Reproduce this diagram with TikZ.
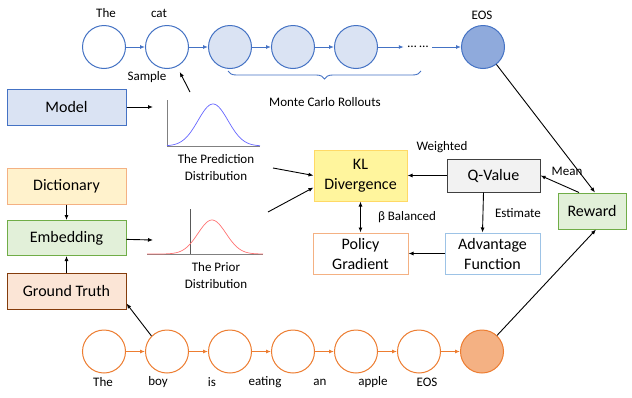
\documentclass[tikz,border=0pt]{standalone}
\usepackage{fontspec}
\setmainfont{Carlito}
\usetikzlibrary{arrows.meta,decorations.pathreplacing}

\definecolor{tokblue}{HTML}{4472C4}
\definecolor{rollfill}{HTML}{DAE3F3}
\definecolor{eosfill}{HTML}{8FAADC}
\definecolor{tokorange}{HTML}{ED7D31}
\definecolor{gtfill}{HTML}{F4B183}
\definecolor{dicfill}{HTML}{FFF2CC}
\definecolor{embfill}{HTML}{E2F0D9}
\definecolor{embline}{HTML}{70AD47}
\definecolor{truthfill}{HTML}{FBE5D6}
\definecolor{truthline}{HTML}{843C0C}
\definecolor{klfill}{HTML}{FFF59D}
\definecolor{klline}{HTML}{FFD966}
\definecolor{qfill}{HTML}{F2F2F2}
\definecolor{advline}{HTML}{9DC3E6}

\begin{document}
\begin{tikzpicture}[x=1pt, y=-1pt, node distance=63pt, line width=0.9pt, >={Latex[length=5pt,width=4pt]},
    tok/.style = {draw=tokblue, circle, minimum size=43pt, inner sep=0pt, line width=1pt},
    gt/.style = {draw=tokorange, circle, minimum size=43pt, inner sep=0pt, line width=1pt},
    box/.style = {draw, minimum width=119pt, minimum height=36pt, line width=1pt, font=\fontsize{16}{19}\selectfont},
    mid/.style = {draw, minimum width=94pt, minimum height=41pt, align=center, line width=1pt, font=\fontsize{16}{20}\selectfont},
    lbl/.style = {align=center, font=\fontsize{13}{17}\selectfont}]
    \useasboundingbox (0,0) rectangle (632,397);

    % generated sentence with rollouts
    \node[tok, fill=white] (1) at (104,47) {};
    \node[tok, fill=white] [right of=1] (2) {};
    \node[tok, fill=rollfill] [right of=2] (3) {};
    \node[tok, fill=rollfill] [right of=3] (4) {};
    \node[tok, fill=rollfill] [right of=4] (5) {};
    \node[lbl] (d) at (418,47) {\ldots\ \ldots};
    \node[tok, fill=eosfill] (6) at (483,47) {};
    \node[lbl] at (106,13) {The};
    \node[lbl] at (159,13) {cat};
    \node[lbl] at (482,15) {EOS};
    \draw[->, tokblue] (1) -- (2);
    \draw[->, tokblue] (2) -- (3);
    \draw[->, tokblue] (3) -- (4);
    \draw[->, tokblue] (4) -- (5);
    \draw[->, tokblue] (5) -- (d);
    \draw[->, tokblue] (d) -- (6);
    \draw[tokblue, decorate, decoration={brace, mirror, amplitude=8pt}] (228,71) -- (421,71);
    \node[lbl] (mc) at (325,102) {Monte Carlo Rollouts};

    % model and prediction distribution
    \node[box, fill=rollfill, draw=tokblue] (m) at (66.5,107) {Model};
    \coordinate (pl) at (153,107);
    \draw[->] (m) -- (pl);
    \draw[gray, line width=0.6pt] (167,100) -- (167,146) -- (260,146);
    \draw[blue!60, line width=0.7pt] plot[domain=167:260, samples=80] (\x, {146-42*exp(-((\x-213)^2)/(2*15^2))});
    \node[lbl] (pdl) at (216,168) {The Prediction\\Distribution};
    \coordinate (pd) at (190,92);
    \node[lbl] (s) at (147,77) {Sample};
    \draw[->, shorten >=6pt] (pd) -- (2.-63);

    % dictionary, embedding, ground truth
    \node[box, fill=dicfill, draw=gtfill] (dic) at (66.5,186) {Dictionary};
    \node[box, fill=embfill, draw=embline, minimum height=35pt] (emb) at (66.5,238) {Embedding};
    \node[box, fill=truthfill, draw=truthline] (gtb) at (66.5,291) {Ground Truth};
    \draw[->] (dic) -- (emb);
    \draw[->] (gtb) -- (emb);
    \coordinate (pr) at (153,240);
    \draw[->] (emb) -- (pr);
    \draw[gray, line width=0.6pt] (147,254) -- (263,254);
    \draw[gray!70!black, line width=0.6pt] (190,209) -- (190,254);
    \draw[red!55, line width=0.7pt] plot[domain=147:263, samples=80] (\x, {254-34*exp(-((\x-212)^2)/(2*14^2))});
    \node[lbl] (prl) at (216,276) {The Prior\\Distribution};

    % losses
    \node[mid, fill=klfill, draw=klline, minimum width=93pt, minimum height=51pt] (kl) at (360.5,175.5) {KL\\Divergence};
    \coordinate (a1) at (273,168);
    \coordinate (a2) at (268,212);
    \draw[->] (a1) -- (kl.west);
    \draw[->] (a2) -- ([yshift=-12pt]kl.west);
    \node[mid, fill=qfill, draw=black!75, minimum width=93pt, minimum height=33pt] (q) at (493.5,175.5) {Q-Value};
    \node[lbl] (w) at (442,147) {Weighted};
    \draw[->] (q) -- (kl);
    \node[box, fill=embfill, draw=embline, minimum width=68pt] (r) at (592,211) {Reward};
    \draw[->] (6) -- ([xshift=3pt]r.north);
    \draw[->] ([xshift=-13pt]r.north) -- (q.east);
    \node[lbl] (mean) at (567,171) {Mean};
    \node[mid, fill=white, draw=advline, minimum width=95pt] (adv) at (492.5,253.5) {Advantage\\Function};
    \node[mid, fill=white, draw=gtfill, minimum width=95pt] (pg) at (360.5,253.5) {Policy\\Gradient};
    \draw[->] ([xshift=-10pt]q.south) -- ([xshift=-10pt]adv.north);
    \node[lbl] (est) at (518,213) {Estimate};
    \draw[->] (adv) -- (pg);
    \draw[<->] (kl) -- (pg);
    \node[lbl] (bal) at (407,217) {β Balanced};

    % ground truth sentence
    \node[gt, fill=white] (b1) at (104,351.5) {};
    \node[gt, fill=white] [right of=b1] (b2) {};
    \node[gt, fill=white] [right of=b2] (b3) {};
    \node[gt, fill=white] [right of=b3] (b4) {};
    \node[gt, fill=white] [right of=b4] (b5) {};
    \node[gt, fill=white] [right of=b5] (b6) {};
    \node[gt, fill=gtfill] [right of=b6] (b7) {};
    \draw[->, tokorange] (b1) -- (b2);
    \draw[->, tokorange] (b2) -- (b3);
    \draw[->, tokorange] (b3) -- (b4);
    \draw[->, tokorange] (b4) -- (b5);
    \draw[->, tokorange] (b5) -- (b6);
    \draw[->, tokorange] (b6) -- (b7);
    \node[lbl] at (103,382) {The};
    \node[lbl] at (158,382) {boy};
    \node[lbl] at (212,382) {is};
    \node[lbl] at (265,382) {eating};
    \node[lbl] at (320,382) {an};
    \node[lbl] at (373,382) {apple};
    \node[lbl] at (427,382) {EOS};
    \draw[->] (b2.135) -- ([yshift=6pt]gtb.south east);
    \draw[->] (b7) -- ([xshift=4pt]r.south);
\end{tikzpicture}
\end{document}
